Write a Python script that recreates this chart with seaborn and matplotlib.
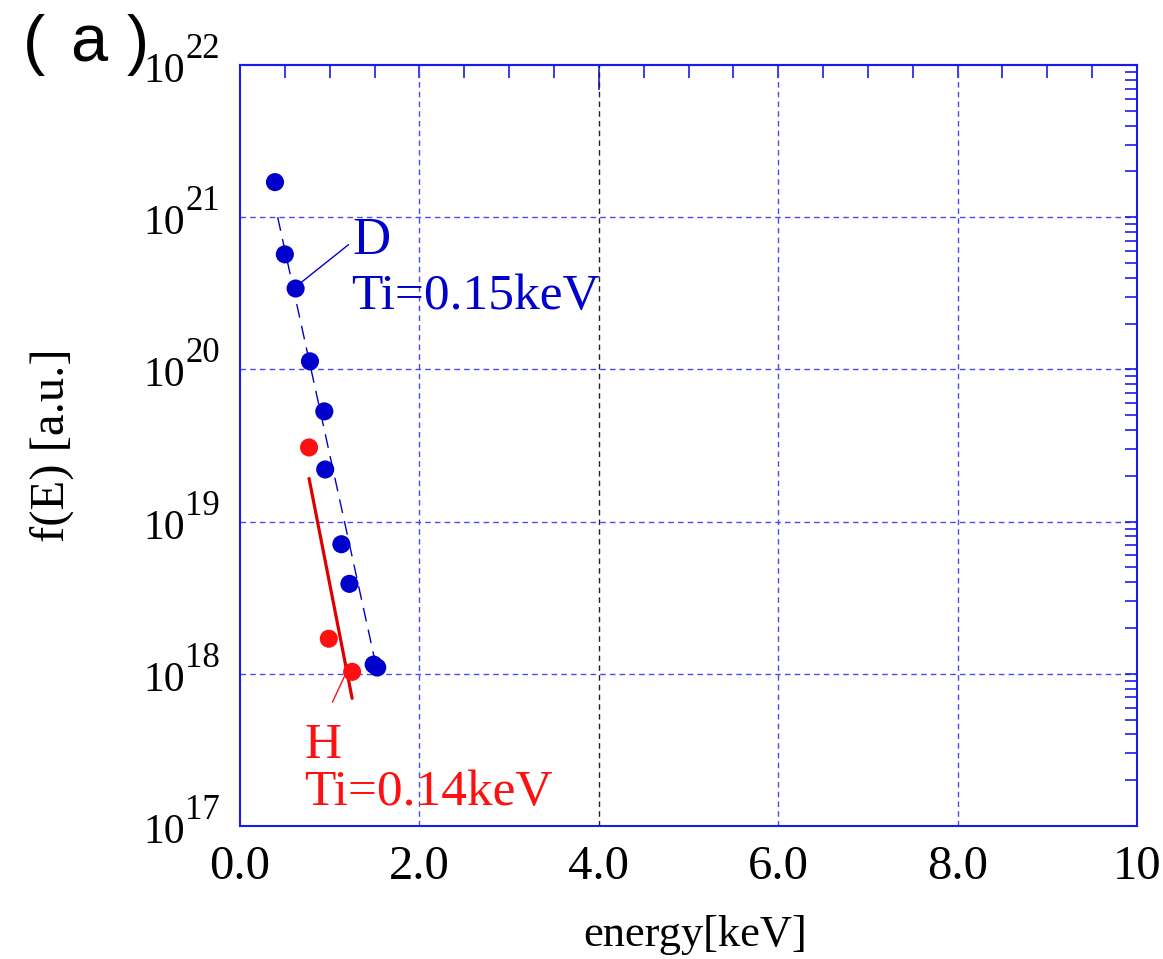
import matplotlib
matplotlib.use("Agg")
import matplotlib.pyplot as plt
import matplotlib.transforms as mtransforms
import seaborn as sns
import pandas as pd
import numpy as np
from matplotlib.ticker import FixedLocator, LogLocator, NullFormatter

sns.set_style("white")
plt.rcParams['font.family'] = ['Liberation Serif', 'DejaVu Serif']
plt.rcParams['text.color'] = 'black'
plt.rcParams['axes.labelcolor'] = 'black'

# Data
d_energy = [0.39, 0.50, 0.62, 0.78, 0.94, 0.95, 1.13, 1.22, 1.49, 1.53]
d_fE = [1.7e21, 5.7e20, 3.4e20, 1.13e20, 5.3e19, 2.2e19, 7.1e18, 3.9e18, 1.15e18, 1.1e18]
h_energy = [0.77, 0.99, 1.25]
h_fE = [3.07e19, 1.7e18, 1.03e18]
d_fit_x = [0.42, 1.54]
d_fit_y = [1.0e21, 9.8e17]
h_fit_x = [0.77, 1.25]
h_fit_y = [1.92e19, 6.9e17]
x_ticks = [0.0, 2.0, 4.0, 6.0, 8.0, 10]
x_tick_labels = ["0.0", "2.0", "4.0", "6.0", "8.0", "10"]
y_exps = [17, 18, 19, 20, 21, 22]

BLUE = '#0000cc'
RED = '#ff1010'
AXC = '#1a1aee'
FS = 37

fig = plt.figure(figsize=(11.63, 9.59), dpi=100)
ax = fig.add_axes([240/1163, 1-826/959, 897/1163, 761/959])

df_d = pd.DataFrame({'energy': d_energy, 'f': d_fE})
df_h = pd.DataFrame({'energy': h_energy, 'f': h_fE})
df_dfit = pd.DataFrame({'energy': d_fit_x, 'f': d_fit_y})
df_hfit = pd.DataFrame({'energy': h_fit_x, 'f': h_fit_y})

ax.set_yscale('log')
ax.set_xlim(0, 10)
ax.set_ylim(1e17, 1e22)

# grid lines
for xv in [2.0, 4.0, 6.0, 8.0]:
    ax.axvline(xv, color=('#222222' if xv == 4.0 else '#4a4aee'), lw=1.0,
               ls=(0, (4, 3)), zorder=0.5)
for e in y_exps[1:-1]:
    ax.axhline(10.0**e, color='#4a4aee', lw=1.0, ls=(0, (4, 3)), zorder=0.5)

sns.lineplot(data=df_dfit, x='energy', y='f', ax=ax, color=BLUE, lw=1.0, zorder=2)
ax.lines[-1].set_dashes((10, 6))
sns.lineplot(data=df_hfit, x='energy', y='f', ax=ax, color='#dd0000', lw=2.3, zorder=2)
sns.scatterplot(data=df_d, x='energy', y='f', ax=ax, color=BLUE, s=170,
                edgecolor='none', zorder=3)
sns.scatterplot(data=df_h, x='energy', y='f', ax=ax, color=RED, s=170,
                edgecolor='none', zorder=3)

# annotations
ax.annotate('', xy=(0.65, 3.6e20), xytext=(1.21, 6.6e20),
            arrowprops=dict(arrowstyle='-', color=BLUE, lw=1.0, shrinkA=0, shrinkB=0))
ax.text(1.25, 7.0e20, 'D', color=BLUE, fontsize=38, va='center', ha='left')
ax.text(1.24, 3.0e20, 'Ti=0.15keV', color=BLUE, fontsize=FS, va='center', ha='left')
ax.annotate('', xy=(1.21, 1.1e18), xytext=(1.03, 6.5e17),
            arrowprops=dict(arrowstyle='-', color=RED, lw=1.0, shrinkA=0, shrinkB=0))
ax.text(0.72, 3.35e17, 'H', color=RED, fontsize=FS, va='center', ha='left')
ax.text(0.72, 1.65e17, 'Ti=0.14keV', color=RED, fontsize=FS, va='center', ha='left')

# ticks
ax.set_xticks(x_ticks)
ax.set_xticklabels(x_tick_labels, fontsize=35)
ax.xaxis.set_minor_locator(FixedLocator(np.arange(0, 10.01, 0.4)))
ax.set_yticks([10.0**e for e in y_exps])
ax.set_yticklabels([])
ax.yaxis.set_minor_locator(LogLocator(base=10, subs=np.arange(2, 10)))
ax.yaxis.set_minor_formatter(NullFormatter())
ax.tick_params(which='both', direction='in', top=False, right=True, color=AXC,
               width=1.2, length=9, labelcolor='black')
ax.tick_params(axis='x', which='major', pad=14)
for s in ax.spines.values():
    s.set_color(AXC)
    s.set_linewidth(1.5)

# y tick labels: 10 with superscript exponent
trans = ax.get_yaxis_transform()
for e in y_exps:
    tb = mtransforms.offset_copy(trans, fig=fig, x=-55, y=-17, units='dots')
    ax.text(0, 10.0**e, '10', transform=tb, fontsize=30, ha='right', va='baseline',
            clip_on=False)
    ts = mtransforms.offset_copy(trans, fig=fig, x=-55, y=7, units='dots')
    ax.text(0, 10.0**e, str(e), transform=ts, fontsize=25, ha='left', va='baseline',
            clip_on=False)

sec = ax.secondary_xaxis('top')
sec.set_xticks([4.0])
sec.set_xticklabels([])
sec.xaxis.set_minor_locator(FixedLocator(np.arange(0.5, 10.0, 0.5)))
sec.tick_params(which='major', direction='in', color=AXC, width=1.2, length=18)
sec.tick_params(which='minor', direction='in', color=AXC, width=1.2, length=9)
sec.spines['top'].set_color(AXC)
sec.spines['top'].set_linewidth(1.5)

ax.set_xlabel('energy[keV]', fontsize=32)
ax.xaxis.set_label_coords(0.507, -0.117)
ax.set_ylabel('f(E) [a.u.]', fontsize=35)
ax.yaxis.set_label_coords(-0.185, 0.5)

sans = ['Liberation Sans', 'DejaVu Sans']
for ch, px in [('(', 23), ('a', 70), (')', 127)]:
    fig.text(px/1163, 1-62/959, ch, fontsize=48, family=sans, ha='left', va='baseline')

fig.savefig('out.png', dpi=100)
